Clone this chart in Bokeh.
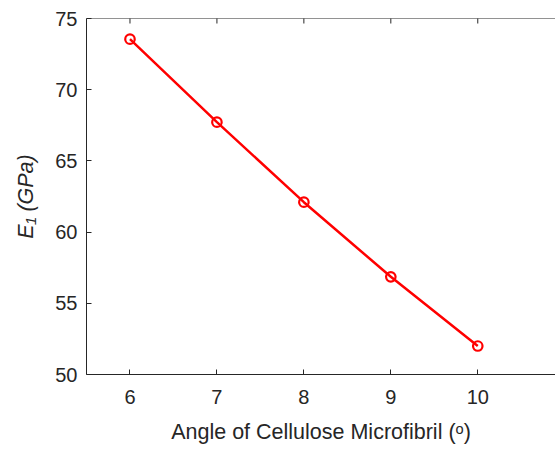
import math
from bokeh.plotting import figure
from bokeh.models import Range1d, FixedTicker, ColumnDataSource, Span
from bokeh.embed import file_html
from bokeh.resources import INLINE

angle = [6, 7, 8, 9, 10]
e1 = [73.55, 67.72, 62.10, 56.86, 52.00]
x_ticks = [6, 7, 8, 9, 10]
y_ticks = [50, 55, 60, 65, 70, 75]

src = ColumnDataSource(data=dict(x=angle, y=e1))

TXT = "#262626"
FONT = "Liberation Sans"
Y_MIN, Y_MAX = 50, 75

p = figure(width=555, height=449, output_backend="svg", toolbar_location=None,
           x_range=Range1d(5.5, 10.894), y_range=Range1d(Y_MIN, Y_MAX),
           x_axis_location="below", y_axis_location="left")
p.min_border_left = 86
p.min_border_right = 0
p.min_border_top = 18
p.min_border_bottom = 75
p.outline_line_color = None
p.background_fill_color = "white"
p.border_fill_color = "white"
p.grid.visible = False

# top box edge and inward top ticks (MATLAB "box on")
p.add_layout(Span(location=Y_MAX, dimension="width", line_color=TXT, line_width=1))
p.scatter(x=x_ticks, y=[Y_MAX] * len(x_ticks), marker="dash", size=10,
          angle=math.pi / 2, line_color=TXT, line_width=1)

p.line("x", "y", source=src, line_color="#FF0000", line_width=2.5)
p.scatter("x", "y", source=src, marker="circle", size=9.5, fill_color=None,
          line_color="#FF0000", line_width=2.2)

xa = p.xaxis[0]
xa.ticker = FixedTicker(ticks=x_ticks)
xa.axis_label = "Angle of Cellulose Microfibril (ᵒ)"
xa.axis_label_text_font_style = "normal"
ya = p.yaxis[0]
ya.ticker = FixedTicker(ticks=y_ticks)
ya.axis_label = "E₁ (GPa)"
ya.axis_label_text_font_style = "italic"

for ax in (xa, ya):
    ax.axis_line_color = TXT
    ax.axis_line_width = 1
    ax.major_tick_line_color = TXT
    ax.major_tick_in = 5
    ax.major_tick_out = 0
    ax.minor_tick_line_color = None
    ax.major_label_text_color = TXT
    ax.major_label_text_font = FONT
    ax.major_label_text_font_size = "20px"
    ax.axis_label_text_color = TXT
    ax.axis_label_text_font = FONT
    ax.axis_label_text_font_size = "21.5px"

xa.major_label_standoff = 15
xa.axis_label_standoff = 13
ya.major_label_standoff = 9
ya.axis_label_standoff = 14

open("out.html", "w").write(file_html(p, INLINE))
